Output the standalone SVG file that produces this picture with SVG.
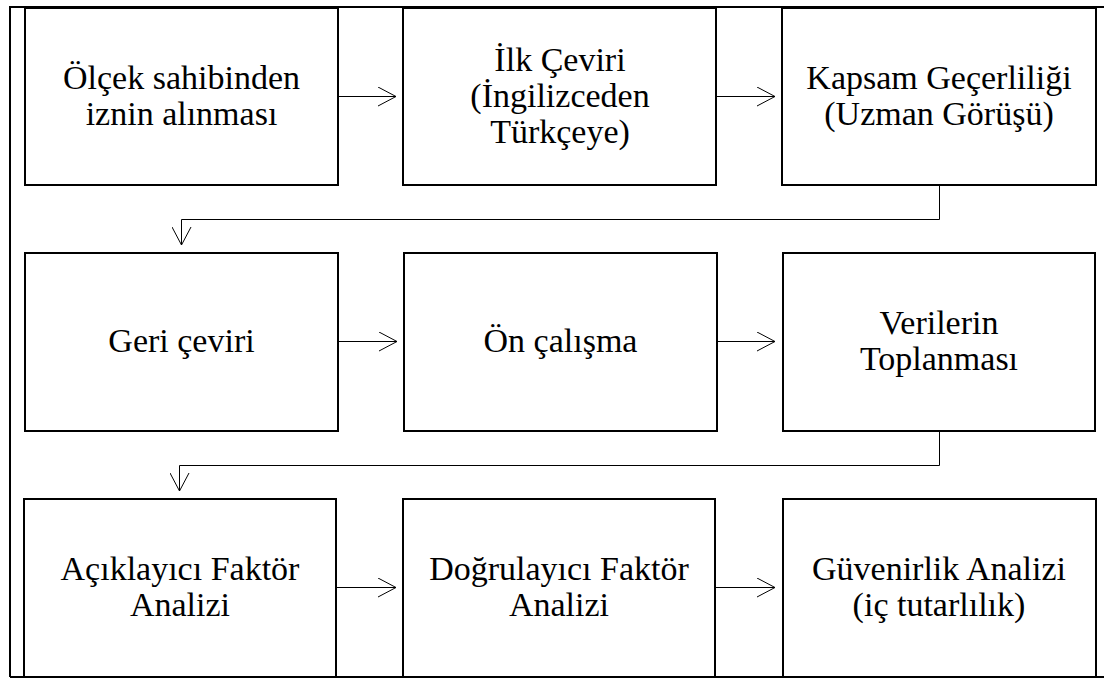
<svg xmlns="http://www.w3.org/2000/svg" width="1104" height="678" viewBox="0 0 1104 678">
<style>
.box{fill:#fff;stroke:#000;stroke-width:2}
.frame{fill:none;stroke:#000;stroke-width:2}
.conn{fill:none;stroke:#000;stroke-width:1}
.t{font-family:"Liberation Serif","Times New Roman",serif;font-size:34px;fill:#000;text-anchor:middle}
</style>
<defs>
<marker id="arr" viewBox="0 0 20 20" refX="19" refY="10" markerWidth="20" markerHeight="20" markerUnits="userSpaceOnUse" orient="auto">
<path d="M1,0.5 L19,10 L1,19.5" fill="none" stroke="#000" stroke-width="1"/>
</marker>
</defs>
<rect width="1104" height="678" fill="#fff"/>
<g id="frame">
<path class="frame" d="M10,677 L10,7 L1104,7"/>
<path class="frame" d="M10,677 L1104,677"/>
</g>
<g id="n1"><rect class="box" x="25" y="8" width="313" height="177"/>
<text class="t"><tspan x="181.5" y="88.5">Ölçek sahibinden</tspan><tspan x="181.5" y="124.5">iznin alınması</tspan></text></g>
<g id="n2"><rect class="box" x="403" y="8" width="313" height="177"/>
<text class="t"><tspan x="560" y="70.5">İlk Çeviri</tspan><tspan x="560" y="106.5">(İngilizceden</tspan><tspan x="560" y="142.5">Türkçeye)</tspan></text></g>
<g id="n3"><rect class="box" x="782" y="8" width="314" height="177"/>
<text class="t"><tspan x="939" y="88.5">Kapsam Geçerliliği</tspan><tspan x="939" y="124.5">(Uzman Görüşü)</tspan></text></g>
<g id="n4"><rect class="box" x="25" y="253" width="313" height="178"/>
<text class="t" x="181.5" y="352">Geri çeviri</text></g>
<g id="n5"><rect class="box" x="404" y="253" width="313" height="178"/>
<text class="t" x="560.5" y="352">Ön çalışma</text></g>
<g id="n6"><rect class="box" x="783" y="253" width="312" height="178"/>
<text class="t"><tspan x="939" y="334">Verilerin</tspan><tspan x="939" y="370">Toplanması</tspan></text></g>
<g id="n7"><rect class="box" x="24" y="499" width="312" height="178"/>
<text class="t"><tspan x="180" y="580">Açıklayıcı Faktör</tspan><tspan x="180" y="616">Analizi</tspan></text></g>
<g id="n8"><rect class="box" x="403" y="499" width="312" height="178"/>
<text class="t"><tspan x="559" y="580">Doğrulayıcı Faktör</tspan><tspan x="559" y="616">Analizi</tspan></text></g>
<g id="n9"><rect class="box" x="783" y="499" width="313" height="178"/>
<text class="t"><tspan x="939" y="580">Güvenirlik Analizi</tspan><tspan x="939" y="616">(iç tutarlılık)</tspan></text></g>
<g id="connectors">
<path class="conn" d="M339,96.5 L396,96.5" marker-end="url(#arr)"/>
<path class="conn" d="M717,96.5 L775,96.5" marker-end="url(#arr)"/>
<path class="conn" d="M939.5,186 L939.5,219.5 L181.5,219.5 L181.5,245" marker-end="url(#arr)"/>
<path class="conn" d="M339,341.5 L397,341.5" marker-end="url(#arr)"/>
<path class="conn" d="M718,341.5 L775,341.5" marker-end="url(#arr)"/>
<path class="conn" d="M939.5,432 L939.5,465.5 L179.5,465.5 L179.5,491" marker-end="url(#arr)"/>
<path class="conn" d="M337,587.5 L396,587.5" marker-end="url(#arr)"/>
<path class="conn" d="M716,587.5 L775,587.5" marker-end="url(#arr)"/>
</g>
</svg>
